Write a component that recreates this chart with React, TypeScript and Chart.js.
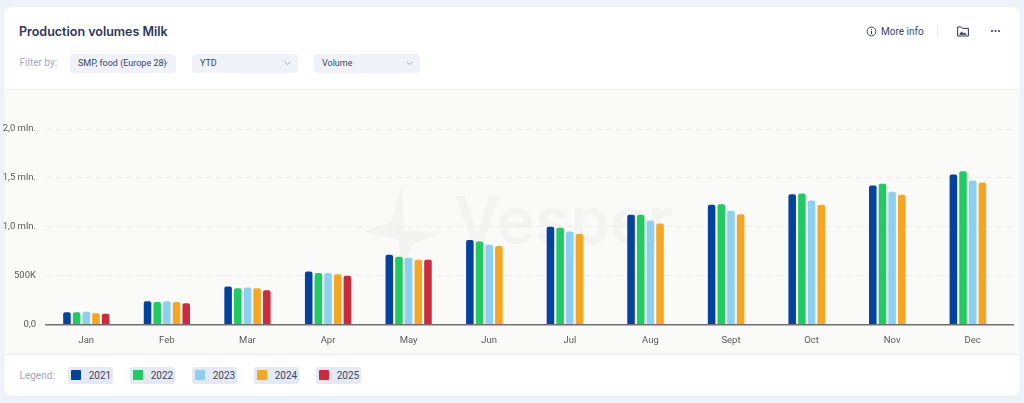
import React, { useEffect, useRef } from "react";
import { Chart, registerables } from "chart.js";

Chart.register(...registerables);

const months = ["Jan", "Feb", "Mar", "Apr", "May", "Jun", "Jul", "Aug", "Sept", "Oct", "Nov", "Dec"];
const v2021 = [125000, 238000, 388000, 541000, 714000, 864000, 1000000, 1122000, 1224000, 1333000, 1422000, 1534000];
const v2022 = [125000, 230000, 370000, 527000, 694000, 850000, 990000, 1122000, 1231000, 1340000, 1439000, 1568000];
const v2023 = [130000, 238000, 378000, 527000, 684000, 816000, 952000, 1064000, 1163000, 1269000, 1357000, 1473000];
const v2024 = [115000, 230000, 370000, 513000, 663000, 803000, 925000, 1034000, 1129000, 1224000, 1327000, 1452000];
const v2025 = [110000, 217000, 350000, 500000, 663000, null, null, null, null, null, null, null];

const years = ["2021", "2022", "2023", "2024", "2025"];
const seriesValues = [v2021, v2022, v2023, v2024, v2025];
const colors = ["#03429f", "#20cb62", "#8bd0f1", "#f6a623", "#cc2a3d"];
const filters = ["SMP, food (Europe 28)", "YTD", "Volume"];
const filterX = [70, 192, 314];
const tickLabels: Record<number, string> = { 0: "0,0", 500000: "500K", 1000000: "1,0 mln.", 1500000: "1,5 mln.", 2000000: "2,0 mln." };

const FONT = "Roboto, sans-serif";
const abs = (left: number, top: number, width: number, height: number): React.CSSProperties => ({
  position: "absolute", left, top, width, height,
});

export default function App() {
  const ref = useRef<HTMLCanvasElement>(null);
  useEffect(() => {
    document.body.style.margin = "0";
    const chart = new Chart(ref.current!, {
      type: "bar",
      data: {
        labels: months,
        datasets: years.map((y, i) => ({
          label: y,
          data: seriesValues[i],
          backgroundColor: colors[i],
          borderRadius: { topLeft: 2, topRight: 2, bottomLeft: 0, bottomRight: 0 },
          borderSkipped: false,
          categoryPercentage: 0.6,
          barPercentage: 0.78,
        })),
      },
      options: {
        responsive: false,
        animation: false,
        layout: { padding: { top: 40, right: 5, left: 0, bottom: 0 } },
        plugins: { legend: { display: false }, tooltip: { enabled: false }, title: { display: false } },
        scales: {
          x: {
            grid: { display: false, drawTicks: false },
            border: { display: true, color: "#6f6f6f", width: 1.5 },
            ticks: { color: "#5a5a5a", font: { family: FONT, size: 9.5 }, padding: 10, maxRotation: 0, autoSkip: false },
            afterFit: (s: any) => { s.height = 29.5; },
          },
          y: {
            min: 0,
            max: 2000000,
            afterBuildTicks: (s: any) => { s.ticks = Object.keys(tickLabels).map((k) => ({ value: Number(k) })); },
            afterFit: (s: any) => { s.width = 46; },
            grid: {
              color: (c: any) => (c.tick && c.tick.value === 0 ? "rgba(0,0,0,0)" : "#ececea"),
              lineWidth: 1,
              drawTicks: false,
            },
            border: { display: false, dash: [6, 4] },
            ticks: {
              color: "#5a5a5a",
              font: { family: FONT, size: 9.5 },
              padding: 10,
              callback: (v: any) => tickLabels[Number(v)] ?? "",
            },
          },
        },
      },
    });
    return () => chart.destroy();
  }, []);

  return (
    <div style={{ ...abs(0, 0, 1024, 403), background: "#eff3f9", overflow: "hidden", fontFamily: FONT }}>
      <div style={{ ...abs(3.5, 7, 1016, 389), background: "#fff", borderRadius: 8, overflow: "hidden", boxShadow: "0 0 0 0.5px #e6eaf2" }} />
      <div style={{ ...abs(3.5, 88.5, 1016, 266), background: "#fafaf8", borderTop: "1px solid #f1f1ef", borderBottom: "1px solid #e9ecf3", boxSizing: "border-box" }} />

      <div style={{ ...abs(19, 23, 300, 18), fontFamily: "Inter, sans-serif", fontWeight: 600, fontSize: 12.5, lineHeight: "18px", color: "#2d3557" }}>
        Production volumes Milk
      </div>
      <div style={{ ...abs(19.5, 56, 50, 14), fontSize: 10, lineHeight: "14px", color: "#a3aabd" }}>Filter by:</div>
      {filters.map((f, i) => (
        <div key={f} style={{ ...abs(filterX[i], 54, 106, 19), background: "#eff3f9", borderRadius: 4, fontSize: 9, lineHeight: "19px", color: "#3c4462" }}>
          <span style={{ position: "absolute", left: 8, whiteSpace: "nowrap" }}>{f}</span>
          <svg style={{ position: "absolute", left: 92, top: 7 }} width="7" height="5" viewBox="0 0 7 5">
            <path d="M0.7 0.8 L3.5 3.6 L6.3 0.8" fill="none" stroke="#8b93a8" strokeWidth="0.8" />
          </svg>
        </div>
      ))}

      <svg style={abs(866, 26, 11, 11)} viewBox="0 0 11 11">
        <circle cx="5.5" cy="5.5" r="4.4" fill="none" stroke="#2d3557" strokeWidth="0.9" />
        <path d="M5.5 4.8 V8 M5.5 3 V3.8" stroke="#2d3557" strokeWidth="1" />
      </svg>
      <div style={{ ...abs(881, 24, 50, 15), fontSize: 10, lineHeight: "15px", color: "#3c4462", whiteSpace: "nowrap" }}>More info</div>
      <div style={{ ...abs(936.5, 26, 1, 11), background: "#e6e9f0" }} />
      <svg style={abs(957, 26, 12, 11)} viewBox="0 0 12 11">
        <path d="M0.6 1 H4.4 L5.6 2.4 H11.4 V10 H0.6 Z" fill="none" stroke="#2d3557" strokeWidth="1" />
        <path d="M2 8.8 L4.6 5.6 L6.4 7.4 L7.6 6.4 L10 8.8 Z" fill="#2d3557" />
      </svg>
      <svg style={abs(990, 29, 11, 4)} viewBox="0 0 11 4">
        <circle cx="2" cy="2" r="1" fill="#2d3557" />
        <circle cx="5.5" cy="2" r="1" fill="#2d3557" />
        <circle cx="9" cy="2" r="1" fill="#2d3557" />
      </svg>

      <svg style={abs(355, 180, 90, 90)} viewBox="0 0 90 90">
        <path d="M47 5 L49 50 L86 53 L58 64 L46 92 L44 60 L9 51 L36 42 Z" fill="#f3f3f1" />
      </svg>
      <div style={{ ...abs(454, 180, 200, 80), fontFamily: "Inter, sans-serif", fontWeight: 600, fontSize: 64, lineHeight: "80px", color: "#f3f3f1" }}>
        Vesper
      </div>

      <canvas ref={ref} width={1018} height={265} style={{ position: "absolute", left: 0, top: 89, width: 1018, height: 265 }} />

      <div style={{ ...abs(19.5, 368, 45, 15), fontSize: 10, lineHeight: "15px", color: "#a3aabd" }}>Legend:</div>
      {years.map((y, i) => (
        <div key={y} style={{ ...abs(67.7 + i * 62, 366.7, 45.6, 17.5), background: "#e4e9f3", borderRadius: 3 }}>
          <div style={{ ...abs(3.5, 3.5, 10, 10), background: colors[i], borderRadius: 1 }} />
          <div style={{ position: "absolute", left: 21, top: 0, fontSize: 10, lineHeight: "17.5px", color: "#3c4462" }}>{y}</div>
        </div>
      ))}
    </div>
  );
}
